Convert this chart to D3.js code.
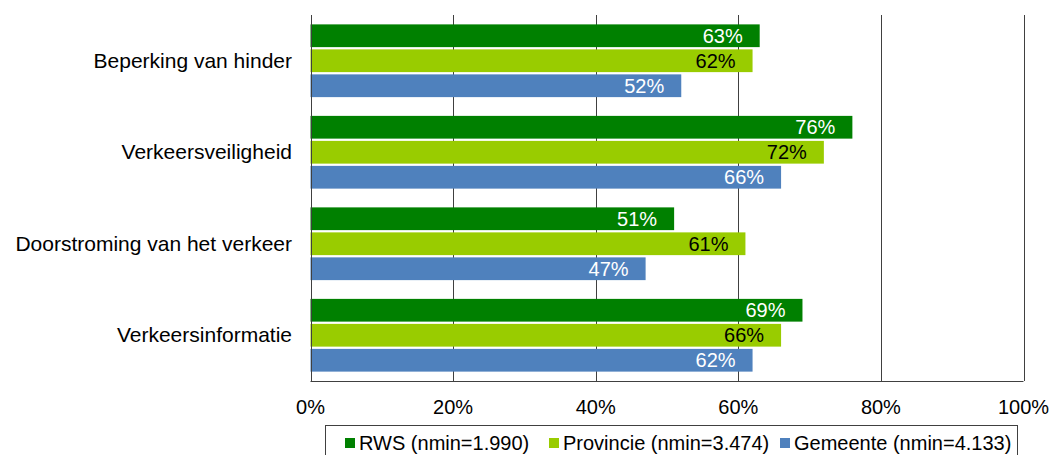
<!DOCTYPE html>
<html>
<head>
<meta charset="utf-8">
<script src="https://cdn.jsdelivr.net/npm/d3@7"></script>
<style>
  body { margin: 0; background: #fff; }
  svg { display: block; font-family: Arial, "Liberation Sans", sans-serif; }
</style>
</head>
<body>
<div id="chart"></div>
<script>
const categories = ["Beperking van hinder", "Verkeersveiligheid", "Doorstroming van het verkeer", "Verkeersinformatie"];
const seriesNames = ["RWS (nmin=1.990)", "Provincie (nmin=3.474)", "Gemeente (nmin=4.133)"];
const rws = [63, 76, 51, 69];
const provincie = [62, 72, 61, 66];
const gemeente = [52, 66, 47, 62];
const xTicks = [0, 20, 40, 60, 80, 100];

const colors = ["#008000", "#99cc00", "#4f81bd"];
const labelColors = ["#ffffff", "#000000", "#ffffff"];
const seriesValues = [rws, provincie, gemeente];

const data = [];
categories.forEach((c, i) => {
  seriesValues.forEach((vals, s) => {
    data.push({ category: c, series: s, value: vals[i] });
  });
});

const width = 1052;
const height = 455;
const plot = { left: 310.5, right: 1023.5, top: 15, bottom: 381 };

const svg = d3
  .select("#chart")
  .append("svg")
  .attr("width", width)
  .attr("height", height);

const x = d3.scaleLinear().domain([0, 100]).range([plot.left, plot.right]);

const y = d3
  .scaleBand()
  .domain(categories)
  .range([plot.top, plot.bottom])
  .paddingInner(0.205)
  .paddingOuter(0.1025);

const ySeries = d3
  .scaleBand()
  .domain([0, 1, 2])
  .range([0, y.bandwidth()])
  .paddingInner(0.09)
  .paddingOuter(0);

// gridlines
svg
  .append("g")
  .selectAll("line")
  .data(xTicks.slice(1))
  .join("line")
  .attr("x1", (d) => Math.round(x(d)) + 0.5)
  .attr("x2", (d) => Math.round(x(d)) + 0.5)
  .attr("y1", plot.top)
  .attr("y2", plot.bottom)
  .attr("stroke", "#404040")
  .attr("stroke-width", 1);

// bars
svg
  .append("g")
  .selectAll("rect")
  .data(data)
  .join("rect")
  .attr("x", x(0))
  .attr("y", (d) => y(d.category) + ySeries(d.series))
  .attr("width", (d) => x(d.value) - x(0))
  .attr("height", ySeries.bandwidth())
  .attr("fill", (d) => colors[d.series]);

// value labels
svg
  .append("g")
  .selectAll("text")
  .data(data)
  .join("text")
  .attr("x", (d) => x(d.value) - 17)
  .attr("y", (d) => y(d.category) + ySeries(d.series) + ySeries.bandwidth() / 2)
  .attr("dy", "0.36em")
  .attr("text-anchor", "end")
  .attr("font-size", 20)
  .attr("fill", (d) => labelColors[d.series])
  .text((d) => d.value + "%");

// axis lines
svg
  .append("line")
  .attr("x1", Math.round(plot.left) + 0.5)
  .attr("x2", Math.round(plot.left) + 0.5)
  .attr("y1", plot.top)
  .attr("y2", plot.bottom)
  .attr("stroke", "#404040");

svg
  .append("line")
  .attr("x1", plot.left)
  .attr("x2", plot.right)
  .attr("y1", plot.bottom + 0.5)
  .attr("y2", plot.bottom + 0.5)
  .attr("stroke", "#404040");

// x tick labels
svg
  .append("g")
  .selectAll("text")
  .data(xTicks)
  .join("text")
  .attr("x", (d) => x(d))
  .attr("y", 414)
  .attr("text-anchor", "middle")
  .attr("font-size", 20)
  .attr("fill", "#000")
  .text((d) => d + "%");

// category labels
svg
  .append("g")
  .selectAll("text")
  .data(categories)
  .join("text")
  .attr("x", 292)
  .attr("y", (d) => y(d) + y.bandwidth() / 2 - 0.5)
  .attr("dy", "0.36em")
  .attr("text-anchor", "end")
  .attr("font-size", 21)
  .attr("fill", "#000")
  .text((d) => d);

// legend
const legend = svg.append("g");
legend
  .append("rect")
  .attr("x", 325.5)
  .attr("y", 425.5)
  .attr("width", 692)
  .attr("height", 40)
  .attr("fill", "#fff")
  .attr("stroke", "#404040");

const legendX = [345, 549, 780];
seriesNames.forEach((name, i) => {
  legend
    .append("rect")
    .attr("x", legendX[i])
    .attr("y", 438)
    .attr("width", 10)
    .attr("height", 10)
    .attr("fill", colors[i]);
  legend
    .append("text")
    .attr("x", legendX[i] + 14)
    .attr("y", 443)
    .attr("dy", "0.36em")
    .attr("font-size", 20)
    .attr("fill", "#000")
    .text(name);
});
</script>
</body>
</html>
